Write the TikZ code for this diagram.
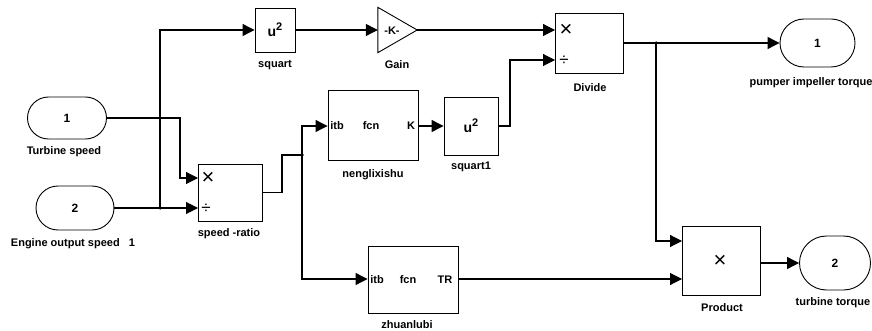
\documentclass[tikz,border=0pt]{standalone}
\usepackage{fontspec}
\setmainfont{Liberation Sans}
\usetikzlibrary{arrows.meta,shapes.misc,calc}
\begin{document}
\begin{tikzpicture}[x=1pt,y=-1pt,
  font=\fontsize{11}{12}\selectfont\bfseries,
  blk/.style={draw,line width=0.9pt,inner sep=0pt},
  pill/.style={draw,line width=0.9pt,rounded rectangle,inner sep=0pt},
  lbl/.style={inner sep=0pt},
  sym/.style={inner sep=0pt,font=\fontsize{22}{22}\selectfont},
  dsym/.style={inner sep=0pt,font=\fontsize{17}{17}\selectfont},
  sig/.style={line width=1.1pt},
  arr/.style={sig,-{Triangle[length=12pt,width=12pt]}},
  jdot/.style={circle,fill,inner sep=0pt,minimum size=3.5pt}]
\useasboundingbox (0,0) rectangle (872,331);
% blocks
\node[pill,minimum width=79pt,minimum height=42pt] (in1) at (67,118) {\fontsize{12}{13}\selectfont 1};
\node[pill,minimum width=78pt,minimum height=44pt] (in2) at (75,208) {\fontsize{12}{13}\selectfont 2};
\node[blk,minimum width=40pt,minimum height=44pt] (sq) at (275,30) {\fontsize{14}{15}\selectfont u\raisebox{0.45em}{\fontsize{11}{12}\selectfont 2}};
\node[inner sep=0pt,minimum width=39pt,minimum height=45pt] (gain) at (397.5,30) {};
\draw[line width=0.9pt] (gain.north west) -- (gain.east) -- (gain.south west) -- cycle;
\node[lbl] (gaink) at (392,31) {-K-};
\node[blk,minimum width=68pt,minimum height=60pt] (div) at (589,43) {};
\node[blk,minimum width=64pt,minimum height=57pt] (sr) at (230,192.5) {};
\node[blk,minimum width=90pt,minimum height=70pt] (nen) at (373,125) {};
\node[blk,minimum width=54pt,minimum height=58pt] (sq1) at (471,126) {\fontsize{14}{15}\selectfont u\raisebox{0.45em}{\fontsize{11}{12}\selectfont 2}};
\node[blk,minimum width=90pt,minimum height=67pt] (zh) at (413,279.5) {};
\node[blk,minimum width=78pt,minimum height=69pt] (prod) at (721,261) {};
\node[pill,minimum width=75pt,minimum height=48pt] (out1) at (817.5,43) {\fontsize{12}{13}\selectfont 1};
\node[pill,minimum width=71pt,minimum height=54pt] (out2) at (835,263) {\fontsize{12}{13}\selectfont 2};
% in-block texts
\node[sym] (prx) at (720,261) {×};
\node[sym] (divx) at (566,30) {×};
\node[dsym] (divd) at (564,61) {÷};
\node[sym] (srx) at (208,178) {×};
\node[dsym] (srd) at (206,209) {÷};
\node[lbl] (nen1) at (337,126) {itb};
\node[lbl] (nen2) at (371,126) {fcn};
\node[lbl] (nen3) at (411,126) {K};
\node[lbl] (zh1) at (377,280) {itb};
\node[lbl] (zh2) at (408,280) {fcn};
\node[lbl] (zh3) at (445,280) {TR};
% captions
\node[lbl] (c1) at (64,152) {Turbine speed};
\node[lbl] (c2) at (73,244) {Engine output speed\ \ \ 1};
\node[lbl] (c3) at (275,65) {squart};
\node[lbl] (c4) at (397,65) {Gain};
\node[lbl] (c5) at (590,88) {Divide};
\node[lbl] (c6) at (229,234) {speed -ratio};
\node[lbl] (c7) at (373,175) {nenglixishu};
\node[lbl] (c8) at (471,167) {squart1};
\node[lbl] (c9) at (407,325) {zhuanlubi};
\node[lbl] (c10) at (722,308) {Product};
\node[lbl] (c11) at (811,83) {pumper impeller torque};
\node[lbl] (c12) at (833,303) {turbine torque};
% ports
\coordinate (srp1) at (198,178);
\coordinate (srp2) at (198,208);
\coordinate (divp1) at (555,30);
\coordinate (divp2) at (555,60);
\coordinate (prp1) at (682,241);
\coordinate (prp2) at (682,279);
\coordinate (j1) at (160,208);
\coordinate (j2) at (302,155);
\coordinate (j3) at (656,43);
% connectors
\draw[arr] (in1.east) -| ([xshift=-18pt]srp1) -- (srp1);
\draw[arr] (in2.east) -- (srp2);
\draw[arr] (j1) |- (sq.west);
\draw[arr] (sq.east) -- (gain.west);
\draw[arr] (gain.east) -- (divp1);
\draw[sig] (sr.east) -| ([xshift=-20pt]j2) -- (j2);
\draw[arr] (j2) |- (nen.west |- 0,126);
\draw[arr] (j2) |- (zh.west |- 0,279);
\draw[arr] (nen.east |- 0,126) -- (sq1.west);
\draw[arr] (sq1.east) -| ([xshift=-45pt]divp2) -- (divp2);
\draw[arr] (div.east) -- (out1.west);
\draw[arr] (j3) |- (prp1);
\draw[arr] (zh.east |- 0,279) -- (prp2);
\draw[arr] (prod.east |- 0,263) -- (out2.west);
\node[jdot] at (j1) {};
\node[jdot] at (j2) {};
\node[jdot] at (j3) {};
\end{tikzpicture}
\end{document}
